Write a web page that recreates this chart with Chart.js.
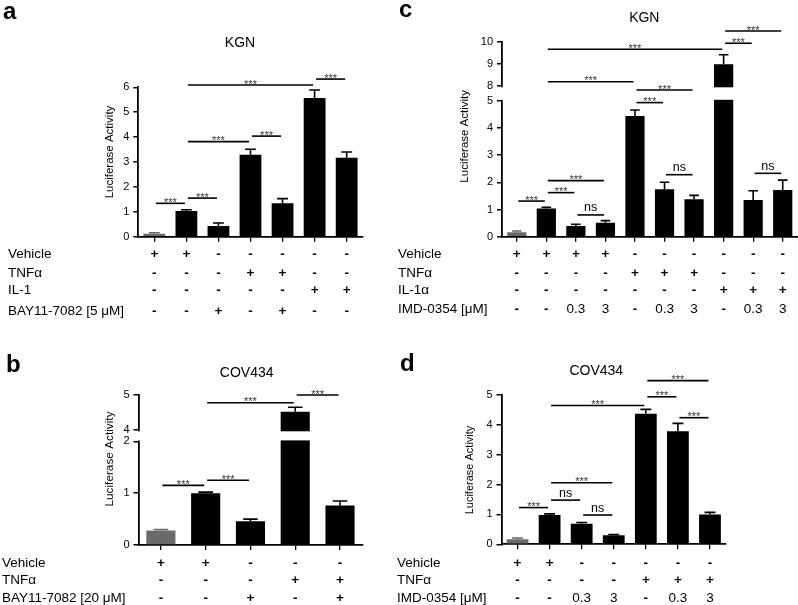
<!DOCTYPE html>
<html>
<head>
<meta charset="utf-8">
<script src="https://cdn.jsdelivr.net/npm/chart.js@4.4.0/dist/chart.umd.min.js"></script>
<style>
  body { margin: 0; background: #fff; }
  #figure { position: relative; width: 798px; height: 605px; overflow: hidden; }
  #figure canvas { position: absolute; }
</style>
</head>
<body>
<div id="figure">
  <canvas id="panel-a" width="400" height="325" style="left:0;top:0"></canvas>
  <canvas id="panel-c" width="403" height="325" style="left:395px;top:0"></canvas>
  <canvas id="panel-b" width="400" height="280" style="left:0;top:325px"></canvas>
  <canvas id="panel-d" width="403" height="280" style="left:395px;top:325px"></canvas>
</div>
<script>
const FONT = '"Liberation Sans", Arial, Helvetica, sans-serif';
const GRAY = '#6a6a6a';

// Panel a - KGN, BAY11-7082
const aValues = [0.12, 1.03, 0.43, 3.29, 1.34, 5.57, 3.17];
const aSem = [0.04, 0.05, 0.12, 0.22, 0.19, 0.32, 0.23];
const aRows = ['Vehicle', 'TNFα', 'IL-1', 'BAY11-7082 [5 μM]'];
const aCells = [
  ['+', '+', '-', '-', '-', '-', '-'],
  ['-', '-', '-', '+', '+', '-', '-'],
  ['-', '-', '-', '-', '-', '+', '+'],
  ['-', '-', '+', '-', '+', '-', '-']
];
const aSig = [[0, 1, 1.34, '***'], [1, 2, 1.55, '***'], [1, 3, 3.82, '***'], [3, 4, 4.04, '***'], [1, 5, 6.09, '***'], [5, 6, 6.33, '***']];

// Panel b - COV434, BAY11-7082
const bValues = [0.28, 1.0, 0.46, 4.52, 0.76];
const bSem = [0.02, 0.02, 0.04, 0.13, 0.09];
const bRows = ['Vehicle', 'TNFα', 'BAY11-7082 [20 μM]'];
const bCells = [
  ['+', '+', '-', '-', '-'],
  ['-', '-', '-', '+', '+'],
  ['-', '-', '+', '-', '+']
];
const bTicks = [0, 1, 2, 4, 5];
const bSig = [[0, 1, 1.15, '***'], [1, 2, 1.25, '***'], [1, 3, 4.78, '***'], [3, 4, 5.0, '***']];

// Panel c - KGN, IMD-0354
const cValues = [0.16, 1.04, 0.39, 0.51, 4.44, 1.74, 1.38, 8.98, 1.35, 1.72];
const cSem = [0.05, 0.04, 0.07, 0.08, 0.22, 0.26, 0.14, 0.43, 0.34, 0.36];
const cRows = ['Vehicle', 'TNFα', 'IL-1α', 'IMD-0354 [μM]'];
const cCells = [
  ['+', '+', '+', '+', '-', '-', '-', '-', '-', '-'],
  ['-', '-', '-', '-', '+', '+', '+', '-', '-', '-'],
  ['-', '-', '-', '-', '-', '-', '-', '+', '+', '+'],
  ['-', '-', '0.3', '3', '-', '0.3', '3', '-', '0.3', '3']
];
const cTicks = [0, 1, 2, 3, 4, 5, 8, 9, 10];
const cSig = [[0, 1, 1.31, '***'], [1, 2, 1.62, '***'], [1, 3, 2.06, '***'], [2, 3, 0.8, 'ns'],
  [4, 5, 4.93, '***'], [4, 6, 7.18, '***'], [5, 6, 2.28, 'ns'], [1, 4, 8.19, '***'],
  [1, 7, 9.66, '***'], [7, 8, 9.93, '***'], [7, 9, 10.48, '***'], [8, 9, 2.33, 'ns']];

// Panel d - COV434, IMD-0354
const dValues = [0.17, 0.98, 0.69, 0.30, 4.37, 3.79, 1.0];
const dSem = [0.04, 0.04, 0.04, 0.03, 0.15, 0.26, 0.07];
const dRows = ['Vehicle', 'TNFα', 'IMD-0354 [μM]'];
const dCells = [
  ['+', '+', '-', '-', '-', '-', '-'],
  ['-', '-', '-', '-', '+', '+', '+'],
  ['-', '-', '0.3', '3', '-', '0.3', '3']
];
const dSig = [[0, 1, 1.23, '***'], [1, 2, 1.48, 'ns'], [2, 3, 0.98, 'ns'], [1, 3, 2.06, '***'],
  [1, 4, 4.65, '***'], [4, 5, 4.94, '***'], [5, 6, 4.24, '***'], [4, 6, 5.48, '***']];

// broken y axes: [from, to, pixel share]
const AXIS_BREAKS = {
  'panel-b': [[0, 2, 103.7], [2, 4, 11.3], [4, 5, 35]],
  'panel-c': [[0, 5, 136], [5, 8, 14.7], [8, 10, 44.3]]
};

class BrokenScale extends Chart.LinearScale {
  static id = 'broken';
  getPixelForValue(value) {
    const segs = AXIS_BREAKS[this.chart.canvas.id];
    const total = segs.reduce((s, g) => s + g[2], 0);
    let k = 0, acc = 0;
    while (k < segs.length - 1 && value > segs[k][1]) { acc += segs[k][2]; k++; }
    const [lo, hi, w] = segs[k];
    const f = (acc + (value - lo) / (hi - lo) * w) / total;
    return this.bottom - f * (this.bottom - this.top);
  }
  getValueForPixel(pixel) {
    const segs = AXIS_BREAKS[this.chart.canvas.id];
    const total = segs.reduce((s, g) => s + g[2], 0);
    let t = (this.bottom - pixel) / (this.bottom - this.top) * total;
    for (const [lo, hi, w] of segs) {
      if (t <= w) return lo + t / w * (hi - lo);
      t -= w;
    }
    return segs[segs.length - 1][1];
  }
}
Chart.register(BrokenScale);

const panelDecor = (spec) => ({
  id: 'panelDecor',
  afterDatasetsDraw(chart) {
    const { ctx, chartArea: area, scales: { x, y } } = chart;
    ctx.save();
    if (spec.gap) {
      const top = y.getPixelForValue(spec.gap[1]) + 1.3;
      const bottom = y.getPixelForValue(spec.gap[0]) - 0.9;
      ctx.fillStyle = '#fff';
      ctx.fillRect(area.left - 1.5, top, area.right - area.left + 1.5, bottom - top);
    }
    // upper error whiskers
    const ds = chart.data.datasets[0];
    ctx.lineWidth = 1.6;
    chart.getDatasetMeta(0).data.forEach((bar, i) => {
      const y0 = y.getPixelForValue(ds.data[i]);
      const y1 = y.getPixelForValue(ds.data[i] + ds.sem[i]);
      const half = bar.width / 4;
      ctx.strokeStyle = ds.backgroundColor[i];
      ctx.beginPath();
      ctx.moveTo(bar.x, y0);
      ctx.lineTo(bar.x, y1);
      ctx.moveTo(bar.x - half, y1);
      ctx.lineTo(bar.x + half, y1);
      ctx.stroke();
    });
    ctx.restore();
  },
  afterDraw(chart) {
    const { ctx, chartArea: area, scales: { x, y } } = chart;
    ctx.save();

    // significance brackets
    spec.sig.forEach(([i, j, level, mark]) => {
      const x0 = x.getPixelForValue(i) + 1.5;
      const x1 = x.getPixelForValue(j) - 1.5;
      const py = y.getPixelForValue(level);
      ctx.strokeStyle = '#000';
      ctx.lineWidth = 1.6;
      ctx.beginPath();
      ctx.moveTo(x0, py);
      ctx.lineTo(x1, py);
      ctx.stroke();
      ctx.textAlign = 'center';
      ctx.textBaseline = 'alphabetic';
      if (mark === 'ns') {
        ctx.font = `12.5px ${FONT}`;
        ctx.fillStyle = '#000';
        ctx.fillText(mark, (x0 + x1) / 2, py - 3.5);
      } else {
        ctx.font = `11px ${FONT}`;
        ctx.fillStyle = '#333';
        ctx.fillText(mark, (x0 + x1) / 2, py + 2.5);
      }
    });

    // treatment table under the x axis
    ctx.fillStyle = '#000';
    ctx.textBaseline = 'alphabetic';
    spec.rows.forEach((label, r) => {
      const base = area.bottom + spec.rowOffsets[r] + 4.9;
      ctx.textAlign = 'left';
      ctx.font = `13.5px ${FONT}`;
      ctx.fillText(label, spec.rowX, base);
      ctx.textAlign = 'center';
      spec.cells[r].forEach((cell, i) => {
        ctx.font = (cell === '+' || cell === '-') ? `bold 13.5px ${FONT}` : `13.5px ${FONT}`;
        ctx.fillText(cell, x.getPixelForValue(i), base);
      });
    });

    // panel letter and title
    ctx.textAlign = 'left';
    ctx.font = `bold 24px ${FONT}`;
    ctx.fillText(spec.letter, spec.letterPos[0], spec.letterPos[1]);
    ctx.textAlign = 'center';
    ctx.font = `14px ${FONT}`;
    ctx.fillText(spec.title, spec.titlePos[0], spec.titlePos[1]);

    // y axis title
    ctx.translate(spec.yTitlePos[0], spec.yTitlePos[1]);
    ctx.rotate(-Math.PI / 2);
    ctx.textBaseline = 'middle';
    ctx.font = `${spec.yTitleSize}px ${FONT}`;
    ctx.fillText('Luciferase Activity', 0, 0);
    ctx.restore();
  }
});

const makePanel = (id, spec) => {
  const yScale = {
    type: spec.ticks ? 'broken' : 'linear',
    min: 0,
    max: spec.max,
    border: { color: '#000', width: 1.8 },
    grid: { drawOnChartArea: false, tickLength: 5, color: '#000', lineWidth: 1.5 },
    ticks: { stepSize: 1, color: '#000', padding: 4, font: { family: FONT, size: 11 } },
    afterFit: (s) => { s.width = 40; }
  };
  if (spec.ticks) {
    yScale.afterBuildTicks = (s) => { s.ticks = spec.ticks.map(v => ({ value: v })); };
  }

  return new Chart(document.getElementById(id).getContext('2d'), {
    type: 'bar',
    data: {
      labels: spec.values.map((_, i) => spec.cells.map(row => row[i]).join(' ')),
      datasets: [{
        data: spec.values,
        sem: spec.sem,
        backgroundColor: spec.values.map((_, i) => i === 0 ? GRAY : '#000'),
        borderWidth: 0,
        categoryPercentage: 1,
        barPercentage: spec.barPct
      }]
    },
    options: {
      responsive: false,
      animation: false,
      devicePixelRatio: 1,
      layout: { padding: spec.padding },
      plugins: { legend: { display: false }, tooltip: { enabled: false } },
      scales: {
        x: {
          type: 'category',
          offset: true,
          border: { color: '#000', width: 1.8 },
          grid: { offset: false, drawOnChartArea: false, tickLength: 5, color: '#000', lineWidth: 1.3 },
          ticks: { display: false },
          afterFit: (s) => { s.height = spec.xHeight; }
        },
        y: yScale
      }
    },
    plugins: [panelDecor(spec)]
  });
};

makePanel('panel-a', {
  values: aValues, sem: aSem, rows: aRows, cells: aCells, sig: aSig,
  max: 6, barPct: 0.68,
  padding: { left: 98.3, right: 37.3, top: 87.3, bottom: 0 }, xHeight: 88.3,
  rowX: 8, rowOffsets: [16.6, 35.6, 52, 73.3],
  letter: 'a', letterPos: [3, 18.5], title: 'KGN', titlePos: [240, 46.7],
  yTitlePos: [110, 152], yTitleSize: 11.5
});

makePanel('panel-c', {
  values: cValues, sem: cSem, rows: cRows, cells: cCells, sig: cSig,
  max: 10, ticks: cTicks, gap: [5, 8], barPct: 0.65,
  padding: { left: 67, right: 0.5, top: 41.7, bottom: 0 }, xHeight: 88.3,
  rowX: 3, rowOffsets: [16.6, 35.3, 52.3, 71],
  letter: 'c', letterPos: [4, 17], title: 'KGN', titlePos: [249.3, 21.7],
  yTitlePos: [70, 136.3], yTitleSize: 11.5
});

makePanel('panel-b', {
  values: bValues, sem: bSem, rows: bRows, cells: bCells, sig: bSig,
  max: 5, ticks: bTicks, gap: [2, 4], barPct: 0.65,
  padding: { left: 98.5, right: 37.6, top: 70, bottom: 0 }, xHeight: 60,
  rowX: 2, rowOffsets: [16.7, 34, 52.3],
  letter: 'b', letterPos: [6, 46.7], title: 'COV434', titlePos: [246.7, 51.7],
  yTitlePos: [110, 134], yTitleSize: 11.8
});

makePanel('panel-d', {
  values: dValues, sem: dSem, rows: dRows, cells: dCells, sig: dSig,
  max: 5, barPct: 0.68,
  padding: { left: 66.5, right: 72, top: 70, bottom: 0 }, xHeight: 60.7,
  rowX: 2, rowOffsets: [17.4, 34.7, 53],
  letter: 'd', letterPos: [5, 45.7], title: 'COV434', titlePos: [201.3, 50],
  yTitlePos: [75, 145], yTitleSize: 11
});
</script>
</body>
</html>
